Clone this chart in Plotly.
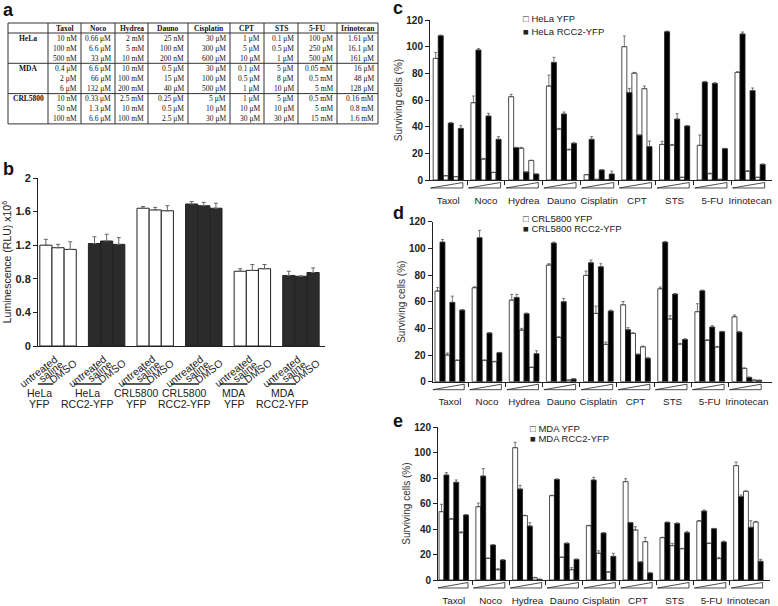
import plotly.graph_objects as go

W, H = 778, 606

# ---- panel a: doses used for each cell line
drugs = ["Taxol", "Noco", "Hydrea", "Dauno", "Cisplatin", "CPT", "STS", "5-FU", "Irinotecan"]
table_lines = ["HeLa", "MDA", "CRL5800"]
hela_doses = [["10 nM", "100 nM", "500 nM"], ["0.66 μM", "6.6 μM", "33 μM"], ["2 mM", "5 mM", "10 mM"],
              ["25 nM", "100 nM", "200 nM"], ["30 μM", "300 μM", "600 μM"], ["1 μM", "5 μM", "10 μM"],
              ["0.1 μM", "0.5 μM", "1 μM"], ["100 μM", "250 μM", "500 μM"], ["1.61 μM", "16.1 μM", "161 μM"]]
mda_doses = [["0.4 μM", "2 μM", "6 μM"], ["6.6 μM", "66 μM", "132 μM"], ["10 mM", "100 mM", "200 mM"],
             ["0.5 μM", "15 μM", "40 μM"], ["30 μM", "100 μM", "500 μM"], ["0.1 μM", "0.5 μM", "1 μM"],
             ["5 μM", "8 μM", "10 μM"], ["0.05 mM", "0.5 mM", "5 mM"], ["16 μM", "48 μM", "128 μM"]]
crl_doses = [["10 nM", "50 nM", "100 nM"], ["0.33 μM", "1.3 μM", "6.6 μM"], ["2.5 mM", "10 mM", "100 mM"],
             ["0.25 μM", "0.5 μM", "2.5 μM"], ["5 μM", "10 μM", "30 μM"], ["1 μM", "10 μM", "30 μM"],
             ["5 μM", "10 μM", "30 μM"], ["0.5 mM", "5 mM", "15 mM"], ["0.16 mM", "0.8 mM", "1.6 mM"]]

# ---- panel b: luminescence
b_cells = ["HeLa", "HeLa", "CRL5800", "CRL5800", "MDA", "MDA"]
b_constructs = ["YFP", "RCC2-YFP", "YFP", "RCC2-YFP", "YFP", "RCC2-YFP"]
b_treatments = ["untreated", "saline", "DMSO"]
b_values = [[1.20, 1.17, 1.15], [1.22, 1.25, 1.21], [1.64, 1.62, 1.61],
            [1.69, 1.67, 1.64], [0.89, 0.90, 0.92], [0.84, 0.83, 0.875]]
b_errors = [[0.07, 0.04, 0.09], [0.08, 0.08, 0.08], [0.02, 0.03, 0.06],
            [0.03, 0.04, 0.06], [0.03, 0.07, 0.05], [0.05, 0.005, 0.055]]

# ---- panels c-e: surviving cells (%) at three increasing doses
hela_yfp = [[91.2, 3.2, 2.5], [58, 15.7, 5.7], [62.5, 23.8, 14.7], [70.5, 38.2, 22.7], [4, 0.5, 0.3],
            [100, 80.2, 68.5], [26.7, 26.2, 2], [26, 4.7, 0.5], [80.7, 6.5, 2]]
hela_yfp_err = [[4.5, 0, 0], [5, 0.5, 0], [1.7, 0.7, 0], [8.2, 0.5, 0.5], [0, 0, 0],
                [8, 0.5, 2], [2.3, 0.5, 0], [7.7, 0.5, 0], [0.5, 0.5, 0]]
hela_rcc2 = [[108.2, 42.7, 38.7], [97.5, 48, 30.5], [24.2, 6, 4.5], [88.2, 49.5, 27.5], [30.5, 7.5, 4.5],
             [65.5, 33.7, 25], [111.2, 45.7, 40.5], [73.5, 72.5, 23.5], [109.5, 67, 11.7]]
hela_rcc2_err = [[0.5, 0.5, 2.3], [1, 2, 2], [0.3, 0, 0], [3.8, 1.5, 0.5], [2, 0.3, 2.2],
                 [3.2, 0, 4.2], [0.5, 4, 0.3], [0.5, 0.5, 0.3], [1.5, 2, 0.3]]

crl_yfp = [[68, 20, 16], [70.5, 16, 15], [61.2, 38.7, 10.7], [87.5, 33.2, 1.2], [79.7, 51.2, 28],
           [57.7, 36.2, 26.2], [69.7, 47, 28.2], [52.5, 31, 26], [48.7, 10, 1.2]]
crl_yfp_err = [[2.7, 1.5, 0.3], [0.7, 0.3, 0.3], [4.3, 1.3, 0.3], [1, 0.5, 0], [3.3, 5.5, 1.7],
               [2.5, 0.5, 0.5], [1.3, 2.5, 0.5], [6, 0.5, 0.5], [1.3, 0.3, 0]]
crl_rcc2 = [[104.7, 59.5, 53.7], [108, 36.5, 21.7], [63.2, 51, 21], [104, 60, 2], [89.2, 86.2, 53],
            [39, 20.5, 17.5], [104.7, 65.7, 31.7], [68.2, 41, 37.5], [37.2, 3.2, 1]]
crl_rcc2_err = [[2, 4.7, 0.3], [5.5, 0.3, 0.3], [2.3, 0.5, 2.2], [0.7, 2.5, 0.3], [2, 2.3, 0.7],
                [1.5, 0.3, 0.7], [0.5, 0.5, 0.5], [0.5, 1, 0.3], [0.5, 0.3, 0.2]]

mda_yfp = [[53.7, 47.9, 37.2], [57.6, 17, 8.1], [104, 50.6, 1.8], [66.3, 17.8, 8.1], [42.7, 21, 6.3],
           [77.3, 39.3, 30.1], [33.3, 27, 24.6], [46.4, 28.8, 16.8], [89.9, 69.7, 45.6]]
mda_yfp_err = [[5.8, 0.5, 0.8], [2.9, 0.3, 0.8], [4.2, 0.3, 0.3], [0.3, 0.3, 1.6], [0.3, 2, 0.3],
               [2.3, 2.6, 3.4], [0.3, 1.8, 0.3], [0.3, 0.3, 1], [2.8, 0.3, 0.5]]
mda_rcc2 = [[82.5, 76.8, 51.1], [81.7, 27.5, 15.7], [71.5, 42.4, 0.5], [79.1, 28.8, 16.2], [78.6, 36.9, 18.6],
            [45, 14.1, 5.5], [45.3, 44.5, 37.2], [54.2, 40.3, 29.9], [65.5, 41.4, 14.7]]
mda_rcc2_err = [[1.9, 1.8, 0.3], [5.8, 0.3, 0.3], [2.9, 2.6, 0.2], [0.3, 0.3, 0.3], [2.1, 0.3, 2.4],
                [0.3, 0.3, 0.3], [0.3, 0.3, 1], [0.8, 0.3, 0.7], [1.3, 5.2, 1.5]]

SANS = "Arial, Liberation Sans, sans-serif"
SERIF = "Times New Roman, Liberation Serif, serif"
INK = "#222"


def px(x):
    return x / W


def py(y):
    return 1 - y / H


fig = go.Figure()
annotations = []
shapes = []

# ---------------- panel a (table) ----------------
col_px = [40, 33, 34, 33, 40, 42, 34, 34, 39, 41]
tab_left, tab_top, head_h, row_h = 8, 23, 10, 10.1
col_edges = [tab_left]
for w in col_px:
    col_edges.append(col_edges[-1] + w)
tab_bottom = tab_top + head_h + 9 * row_h
tfont = dict(family=SERIF, size=7.5, color="#111")

for c, name in enumerate(drugs):
    annotations.append(dict(x=px((col_edges[c + 1] + col_edges[c + 2]) / 2), y=py(tab_top + head_h / 2),
                            text="<b>%s</b>" % name, font=tfont))
for i, (name, doses) in enumerate(zip(table_lines, [hela_doses, mda_doses, crl_doses])):
    for r in range(3):
        yc = tab_top + head_h + (i * 3 + r + 0.5) * row_h
        if r == 0:
            annotations.append(dict(x=px((col_edges[0] + col_edges[1]) / 2), y=py(yc),
                                    text="<b>%s</b>" % name, font=tfont))
        for c in range(len(drugs)):
            annotations.append(dict(x=px(col_edges[c + 2] - 2), y=py(yc), xanchor="right",
                                    text=doses[c][r], font=tfont))

tline = dict(color="#333", width=1)
shapes.append(dict(type="rect", xref="paper", yref="paper", x0=px(col_edges[0]), x1=px(col_edges[-1]),
                   y0=py(tab_bottom), y1=py(tab_top), line=tline))
for e in col_edges[1:-1]:
    shapes.append(dict(type="line", xref="paper", yref="paper", x0=px(e), x1=px(e),
                       y0=py(tab_bottom), y1=py(tab_top), line=tline))
for k in range(3):
    yy = tab_top + head_h + k * 3 * row_h
    shapes.append(dict(type="line", xref="paper", yref="paper", x0=px(col_edges[0]), x1=px(col_edges[-1]),
                       y0=py(yy), y1=py(yy), line=tline))

# ---------------- panel b ----------------
for g in range(len(b_values)):
    xs = [g * 4 + j for j in range(3)]
    fig.add_trace(go.Bar(
        x=xs, y=b_values[g], width=1, xaxis="x", yaxis="y", showlegend=False,
        marker=dict(color="white" if b_constructs[g] == "YFP" else "#2b2b2b", line=dict(color=INK, width=1)),
        error_y=dict(type="data", array=b_errors[g], arrayminus=[0] * 3, symmetric=False,
                     color="#666", thickness=1, width=2),
    ))
    # rotated treatment labels, centred under each bar
    for xv, t in zip(xs, b_treatments):
        annotations.append(dict(x=xv, xref="x", xshift=-7, y=py(371), text=t, textangle=-38,
                                font=dict(family=SANS, size=10.5, color=INK)))
    cx = g * 4 + 1 - 1.55
    annotations.append(dict(x=cx, y=py(393), xref="x", text=b_cells[g], font=dict(family=SANS, size=10.5, color=INK)))
    annotations.append(dict(x=cx, y=py(404), xref="x", text=b_constructs[g], font=dict(family=SANS, size=10.5, color=INK)))
    shapes.append(dict(type="line", xref="x", yref="paper", x0=cx - 1.15, x1=cx + 1.15, y0=py(384), y1=py(384),
                       line=dict(color=INK, width=1.5)))

# ---------------- panels c-e ----------------
panels = [
    ("x2", "y2", hela_yfp, hela_yfp_err, hela_rcc2, hela_rcc2_err, "HeLa YFP", "HeLa RCC2-YFP"),
    ("x3", "y3", crl_yfp, crl_yfp_err, crl_rcc2, crl_rcc2_err, "CRL5800 YFP", "CRL5800 RCC2-YFP"),
    ("x4", "y4", mda_yfp, mda_yfp_err, mda_rcc2, mda_rcc2_err, "MDA YFP", "MDA RCC2-YFP"),
]
G = 7.5
for xa, ya, wv, we, bv, be, lab_w, lab_b in panels:
    for vals, errs, col, lab in [(wv, we, "white", lab_w), (bv, be, "black", lab_b)]:
        off = 0 if col == "white" else 1
        fig.add_trace(go.Bar(
            x=[g * G + 2 * k + off for g in range(len(drugs)) for k in range(3)],
            y=[vals[g][k] for g in range(len(drugs)) for k in range(3)],
            width=1, xaxis=xa, yaxis=ya, name=lab, showlegend=False,
            marker=dict(color=col, line=dict(color=INK, width=0.8)),
            error_y=dict(type="data", array=[errs[g][k] for g in range(len(drugs)) for k in range(3)],
                         arrayminus=[0] * 27, symmetric=False, color="#555", thickness=0.8, width=1.5),
        ))

# axis geometry (pixels): left, right, top(120), bottom(0), legend column and rows
geo = {
    "2": dict(l=430, r=772, t=20, b=180, leg=(521, 19, 31)),
    "3": dict(l=432.7, r=772, t=221.7, b=381.7, leg=(521, 218, 228)),
    "4": dict(l=438, r=770, t=427.3, b=580, leg=(528, 428, 438)),
}
first_bar = {"2": 435.7, "3": 437.5, "4": 441.5}
unit = {"2": 5.03, "3": 4.95, "4": 4.91}

axis_common = dict(showline=True, linecolor=INK, linewidth=1, showgrid=False, zeroline=False, automargin=False)
layout_axes = {}
layout_axes["xaxis"] = dict(axis_common, domain=[px(38), px(325)], range=[-0.65, 22.98], anchor="y",
                            showticklabels=False, ticks="")
layout_axes["yaxis"] = dict(axis_common, domain=[py(346), py(178)], range=[0, 2], anchor="x",
                            tickvals=[0, 0.4, 0.8, 1.2, 1.6, 2], ticktext=["0", "0.4", "0.8", "1.2", "1.6", "2"],
                            ticks="outside", ticklen=4, tickcolor=INK,
                            tickfont=dict(family=SANS, size=11, color=INK, weight="bold"),
                            title=dict(text="Luminescence (RLU) x10<sup>6</sup>",
                                       font=dict(family=SANS, size=10.5, color=INK), standoff=2))

for (xa, ya, wv, we, bv, be, lab_w, lab_b) in panels:
    n = xa[1:]
    gg = geo[n]
    x0 = (gg["l"] - first_bar[n]) / unit[n]
    x1 = (gg["r"] - first_bar[n]) / unit[n]
    layout_axes["xaxis" + n] = dict(axis_common, domain=[px(gg["l"]), px(gg["r"])], range=[x0, x1], anchor=ya,
                                    tickvals=[g * G + 2.5 for g in range(len(drugs))], ticktext=drugs,
                                    ticks="", ticklabelstandoff=11,
                                    tickfont=dict(family=SANS, size=9.8, color=INK),
                                    minor=dict(tickvals=[g * G - 1.25 for g in range(1, len(drugs))],
                                               ticks="outside", ticklen=4, tickcolor=INK, tickwidth=1))
    layout_axes["yaxis" + n] = dict(axis_common, domain=[py(gg["b"]), py(gg["t"])], range=[0, 120], anchor=xa,
                                    tickvals=list(range(0, 121, 20)), ticks="outside", ticklen=4, tickcolor=INK,
                                    tickfont=dict(family=SANS, size=10, color=INK, weight="bold"),
                                    title=dict(text="Surviving cells (%)", font=dict(family=SANS, size=10, color="#333"),
                                               standoff=1))
    # dose wedges under each drug group
    for g in range(len(drugs)):
        a, b = g * G - 1.0, g * G + 5.4
        ybot, ytop = py(gg["b"] + 8), py(gg["b"] + 2.5)
        shapes.append(dict(type="path", xref=xa, yref="paper",
                           path="M %f %f L %f %f L %f %f Z" % (a, ybot, b, ybot, b, ytop),
                           fillcolor="white", line=dict(color=INK, width=0.8)))
    lx, r1, r2 = gg["leg"]
    annotations.append(dict(x=px(lx), y=py(r1), xanchor="left", text="□ " + lab_w,
                            font=dict(family=SANS, size=9.5, color=INK)))
    annotations.append(dict(x=px(lx), y=py(r2), xanchor="left", text="■ " + lab_b,
                            font=dict(family=SANS, size=9.5, color=INK)))

# panel letters
for letter, (lx, ly) in zip("abcde", [(1, 10), (1, 169), (391, 8), (391, 213), (391, 421)]):
    annotations.append(dict(x=px(lx), y=py(ly), xanchor="left", text="<b>%s</b>" % letter,
                            font=dict(family=SANS, size=18, color="#111")))

for a in annotations:
    a.setdefault("xref", "paper")
    a.setdefault("yref", "paper")
    a.setdefault("showarrow", False)
    a.setdefault("xanchor", "center")
    a.setdefault("yanchor", "middle")

fig.update_layout(
    width=W, height=H, margin=dict(l=0, r=0, t=0, b=0, autoexpand=False),
    paper_bgcolor="white", plot_bgcolor="white", barmode="overlay",
    annotations=annotations, shapes=shapes, **layout_axes,
)

fig.write_html("out.html", config={"displayModeBar": False},
               post_script="document.body.style.margin='0px';")
